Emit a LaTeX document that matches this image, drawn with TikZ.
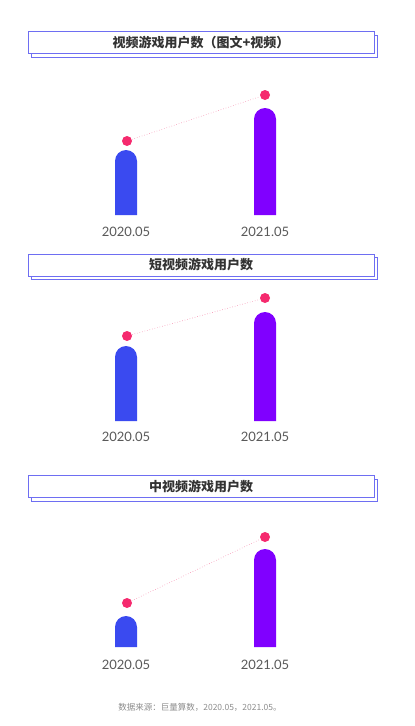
\documentclass[tikz,border=0pt]{standalone}
\usepackage{fontspec}
\setmainfont{Noto Sans CJK SC}
\newfontfamily\numfont{Lato}
\usetikzlibrary{positioning,shadows}

\definecolor{boxline}{HTML}{6E6EF2}
\definecolor{barblue}{HTML}{3A4AF0}
\definecolor{barpurple}{HTML}{8000FF}
\definecolor{dotred}{HTML}{F52A6E}
\definecolor{linkpink}{HTML}{F590B0}
\definecolor{titlegray}{HTML}{333333}

% bar with a round top: x, top, bottom, colour
\newcommand{\gamebar}[4]{%
  \fill[#4] (#1,#3) -- (#1,#2+11) arc[start angle=180, end angle=360, radius=11] -- (#1+22,#3) -- cycle;}

\tikzset{
  titlebox/.style={draw=boxline, fill=white, line width=1pt, minimum width=346pt, minimum height=22pt,
    copy shadow={shadow xshift=3.5pt, shadow yshift=-3.5pt}, font=\fontsize{13}{13}\selectfont\bfseries, text=titlegray},
  dot/.style={circle, fill=dotred, inner sep=0pt, minimum size=10pt},
  link/.style={linkpink, dotted, line width=0.6pt},
  year/.style={font=\numfont\fontsize{13}{13}\selectfont, text=black!65}
}

\begin{document}
\begin{tikzpicture}[x=1pt, y=-1pt]
    \useasboundingbox (0,0) rectangle (415,726);

    % chart 1
    \node [titlebox] (t1) at (201,42.5) {视频游戏用户数（图文+视频）};
    \gamebar{115}{150}{215}{barblue}
    \gamebar{254}{108}{215}{barpurple}
    \node [dot] (a1) at (127,141) {};
    \node [dot] (b1) at (265,95) {};
    \draw [link] (a1) -- (b1);
    \node [year] (ya1) at (126,232) {2020.05};
    \node [year] (yb1) at (265,232) {2021.05};

    % chart 2
    \node [titlebox] (t2) at (201,265) {短视频游戏用户数};
    \gamebar{115}{346}{421}{barblue}
    \gamebar{254}{312}{421}{barpurple}
    \node [dot] (a2) at (127,336) {};
    \node [dot] (b2) at (265,298) {};
    \draw [link] (a2) -- (b2);
    \node [year] (ya2) at (126,437) {2020.05};
    \node [year] (yb2) at (265,437) {2021.05};

    % chart 3
    \node [titlebox] (t3) at (201,486.5) {中视频游戏用户数};
    \gamebar{115}{616}{647}{barblue}
    \gamebar{254}{549}{647}{barpurple}
    \node [dot] (a3) at (127,603) {};
    \node [dot] (b3) at (265,537) {};
    \draw [link] (a3) -- (b3);
    \node [year] (ya3) at (126,665) {2020.05};
    \node [year] (yb3) at (265,665) {2021.05};

    \node [font=\fontsize{8.5}{8.5}\selectfont, text=black!45] (src) at (200,707) {数据来源：巨量算数，2020.05，2021.05。};
\end{tikzpicture}
\end{document}
